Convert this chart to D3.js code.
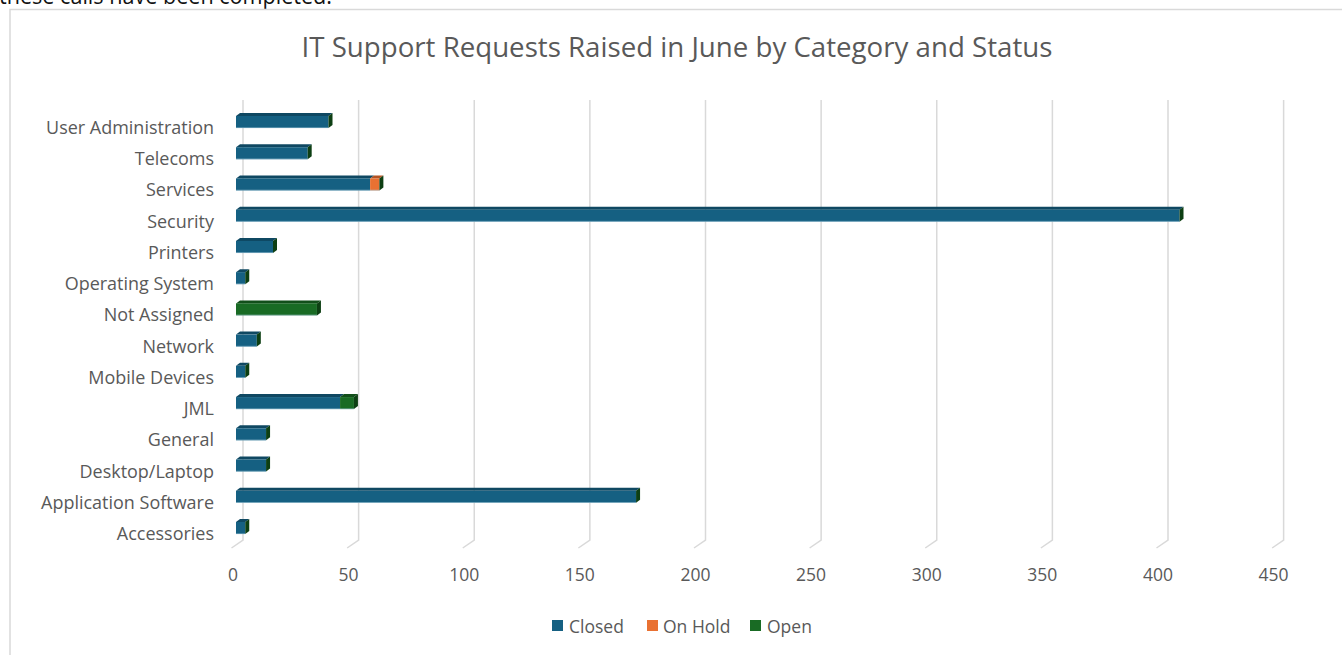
<!DOCTYPE html>
<html>
<head>
<meta charset="utf-8">
<script src="https://cdn.jsdelivr.net/npm/d3@7"></script>
<style>
  body { margin: 0; background: #fff; overflow: hidden; }
  text { font-family: "Open Sans", "Noto Sans", sans-serif; }
</style>
</head>
<body>
<svg id="chart"></svg>
<script>
const width = 1342, height = 655;

// categories top to bottom as shown
const categories = ["User Administration", "Telecoms", "Services", "Security", "Printers",
  "Operating System", "Not Assigned", "Network", "Mobile Devices", "JML", "General",
  "Desktop/Laptop", "Application Software", "Accessories"];
const closed = [40, 31, 58, 408, 16, 4, 0, 9, 4, 45, 13, 13, 173, 4];
const onHold = [0, 0, 4, 0, 0, 0, 0, 0, 0, 0, 0, 0, 0, 0];
const open   = [0, 0, 0, 0, 0, 0, 35, 0, 0, 6, 0, 0, 0, 0];
const seriesKeys = ["Closed", "On Hold", "Open"];
const xTicks = [0, 50, 100, 150, 200, 250, 300, 350, 400, 450];

const colors = { "Closed": "#156082", "On Hold": "#e97132", "Open": "#196b24" };
const topColors = { "Closed": "#0f4862", "On Hold": "#b35423", "Open": "#124f1a" };
const sideColor = "#0d3f13";

const rows = categories.map((c, i) => ({ cat: c, "Closed": closed[i], "On Hold": onHold[i], "Open": open[i] }));
const stacked = d3.stack().keys(seriesKeys)(rows);

const svg = d3.select("#chart").attr("width", width).attr("height", height);

// text above the chart (cut off by the top of the picture, as in the screenshot)
svg.append("text")
  .attr("x", -1).attr("y", 4)
  .attr("font-family", "Liberation Sans, sans-serif")
  .attr("font-size", 23).attr("fill", "#111")
  .attr("textLength", 333).attr("lengthAdjust", "spacingAndGlyphs")
  .text("these calls have been completed.");

// chart area border
svg.append("rect")
  .attr("x", 10).attr("y", 9.5).attr("width", 1400).attr("height", 700)
  .attr("fill", "#fff").attr("stroke", "#d9d9d9").attr("stroke-width", 1.5);

const x = d3.scaleLinear().domain([0, 450]).range([236, 236 + 450 * 2.3125]);
const y = d3.scaleBand().domain(categories).range([100, 100 + 14 * 31.23]);

const backDx = 7, frontDx = -4.5, floorTop = 540, floorBottom = 548;

// gridlines with 3D floor bend
svg.append("g").selectAll("path")
  .data(xTicks)
  .join("path")
  .attr("d", d => `M${x(d) + backDx},100 L${x(d) + backDx},${floorTop} L${x(d) + frontDx},${floorBottom}`)
  .attr("fill", "none").attr("stroke", "#d9d9d9").attr("stroke-width", 1.5);

// x tick labels
svg.append("g").selectAll("text")
  .data(xTicks)
  .join("text")
  .attr("x", d => x(d) - 3).attr("y", 574)
  .attr("text-anchor", "middle").attr("dominant-baseline", "central")
  .attr("font-size", 17.5).attr("fill", "#595959")
  .text(d => d);

// category labels
const catLabels = svg.append("g").selectAll("text")
  .data(categories)
  .join("text")
  .attr("x", 214).attr("y", d => y(d) + 27)
  .attr("text-anchor", "end").attr("dominant-baseline", "central")
  .attr("font-size", 16).attr("fill", "#595959")
  .text(d => d);

// fit label size to reference width of "Application Software"
const appNode = catLabels.filter(d => d === "Application Software").node();
const catSize = 16 * 173 / appNode.getComputedTextLength();
catLabels.attr("font-size", catSize);

// bars
const faceTop = 16, faceH = 12, depthX = 4, depthY = 3;
const barG = svg.append("g");

stacked.forEach(layer => {
  const key = layer.key;
  layer.forEach((seg, i) => {
    const x0 = x(seg[0]), x1 = x(seg[1]);
    if (x1 - x0 <= 0) return;
    const yt = y(categories[i]) + faceTop;
    // top face
    barG.append("path")
      .attr("d", `M${x0},${yt} L${x0 + depthX},${yt - depthY} L${x1 + depthX},${yt - depthY} L${x1},${yt} Z`)
      .attr("fill", topColors[key]);
    // front face
    barG.append("rect")
      .attr("x", x0).attr("y", yt).attr("width", x1 - x0).attr("height", faceH)
      .attr("fill", colors[key]);
  });
});

// end faces (last series colour) and light bottom edge
rows.forEach((r, i) => {
  const total = r["Closed"] + r["On Hold"] + r["Open"];
  const xe = x(total), xs = x(0);
  const yt = y(r.cat) + faceTop;
  barG.append("path")
    .attr("d", `M${xe},${yt} L${xe + depthX},${yt - depthY} L${xe + depthX},${yt + faceH - depthY} L${xe},${yt + faceH} Z`)
    .attr("fill", sideColor);
  barG.append("line")
    .attr("x1", xs).attr("x2", xe)
    .attr("y1", yt + faceH - 0.3).attr("y2", yt + faceH - 0.3)
    .attr("stroke", "#9cc3d6").attr("stroke-width", 0.8).attr("opacity", 0.7);
});

// title
const title = svg.append("text")
  .attr("x", 677).attr("y", 46)
  .attr("text-anchor", "middle").attr("dominant-baseline", "central")
  .attr("font-size", 24).attr("fill", "#595959")
  .text("IT Support Requests Raised in June by Category and Status");
const tSize = 24 * 751 / title.node().getComputedTextLength();
title.attr("font-size", tSize);

// legend
const legendItems = [
  { key: "Closed", sx: 552, tx: 569 },
  { key: "On Hold", sx: 647, tx: 663 },
  { key: "Open", sx: 750, tx: 767 }
];
const legend = svg.append("g");
legend.selectAll("rect")
  .data(legendItems)
  .join("rect")
  .attr("x", d => d.sx).attr("y", 620).attr("width", 11).attr("height", 11)
  .attr("fill", d => colors[d.key]);
legend.selectAll("text")
  .data(legendItems)
  .join("text")
  .attr("x", d => d.tx).attr("y", 625.5)
  .attr("dominant-baseline", "central")
  .attr("font-size", 17.5).attr("fill", "#595959")
  .text(d => d.key);
</script>
</body>
</html>
